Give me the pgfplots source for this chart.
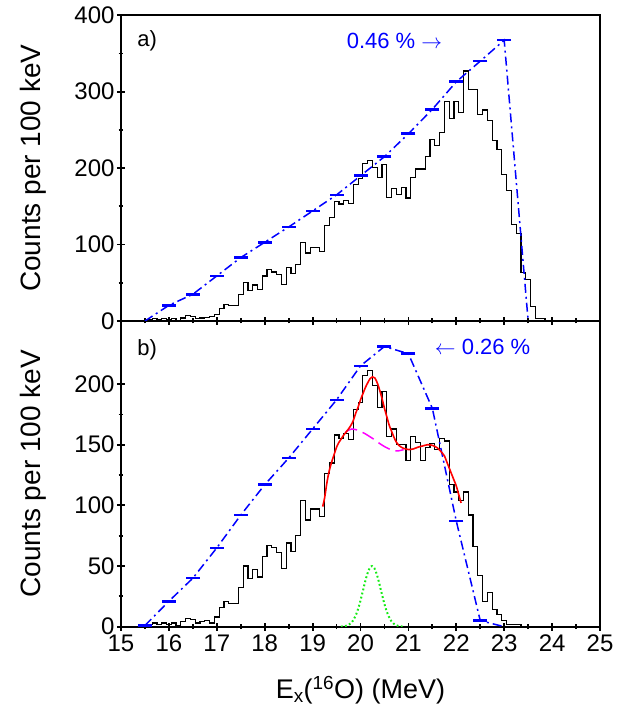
\documentclass[border=0pt]{standalone}
\usepackage{fontspec}
\setmainfont{Liberation Sans}
\usepackage{pgfplots}
\pgfplotsset{compat=1.18}
\definecolor{myblue}{RGB}{0,0,255}
\definecolor{myred}{RGB}{255,0,0}
\definecolor{mymag}{RGB}{255,0,255}
\definecolor{mygreen}{RGB}{20,235,20}
\pgfplotstableread{
x y
15.0 0
15.1 0
15.2 0
15.3 0
15.4 0
15.5 1
15.6 2
15.7 3
15.8 2
15.9 3
16.0 2
16.1 3
16.2 1
16.3 4
16.4 7
16.5 6
16.6 3
16.7 4
16.8 5
16.9 6
17.0 9
17.1 16
17.2 22
17.3 20
17.4 20
17.5 35
17.6 50
17.7 40
17.8 47
17.9 41
18.0 59
18.1 67
18.2 64
18.3 61
18.4 48
18.5 70
18.6 62
18.7 74
18.8 103
18.9 89
19.0 96
19.1 96
19.2 91
19.3 125
19.4 135
19.5 156
19.6 153
19.7 158
19.8 154
19.9 179
20.0 186
20.1 206
20.2 210
20.3 201
20.4 188
20.5 205
20.6 162
20.7 173
20.8 166
20.9 175
21.0 161
21.1 188
21.2 199
21.3 199
21.4 215
21.5 237
21.6 230
21.7 247
21.8 287
21.9 265
22.0 287
22.1 273
22.2 327
22.3 303
22.4 303
22.5 270
22.6 276
22.7 262
22.8 236
22.9 224
23.0 192
23.1 171
23.2 126
23.3 114
23.4 63
23.5 54
23.6 19
23.7 3
23.8 3
23.9 0
24.0 0
}\histA
\pgfplotstableread{
x y
15.0 0
15.1 0
15.2 0
15.3 0
15.4 0
15.5 1
15.6 2
15.7 3
15.8 2
15.9 3
16.0 2
16.1 3
16.2 1
16.3 4
16.4 7
16.5 6
16.6 3
16.7 4
16.8 5
16.9 3
17.0 8
17.1 16
17.2 21
17.3 19
17.4 19
17.5 32
17.6 50
17.7 40
17.8 47
17.9 41
18.0 58
18.1 67
18.2 65
18.3 61
18.4 48
18.5 69
18.6 62
18.7 75
18.8 104
18.9 88
19.0 97
19.1 97
19.2 91
19.3 126
19.4 135
19.5 158
19.6 155
19.7 159
19.8 154
19.9 179
20.0 185
20.1 207
20.2 211
20.3 199
20.4 181
20.5 194
20.6 157
20.7 163
20.8 150
20.9 150
21.0 137
21.1 157
21.2 152
21.3 137
21.4 148
21.5 151
21.6 146
21.7 155
21.8 153
21.9 117
22.0 111
22.1 104
22.2 111
22.3 92
22.4 66
22.5 42
22.6 21
22.7 28
22.8 14
22.9 10
23.0 5
23.1 1.5
23.2 1.5
23.3 1.5
23.4 0
23.5 0
}\histB
\pgfplotstableread{
x y
15.5 0
16.0 20.5
16.5 35
17.0 59
17.5 83
18.0 103
18.5 123
19.0 144
19.5 165
20.0 190
20.5 215
21.0 245
21.5 277
22.0 313
22.5 340
23.0 367.5
23.5 0
}\effA
\pgfplotstableread{
x y
15.5 1
16.0 21
16.5 40
17.0 65
17.5 92
18.0 117
18.5 139
19.0 163
19.5 187
20.0 215
20.5 231
21.0 225
21.5 180
22.0 87
22.5 5
23.0 0
}\effB
\pgfplotstableread{
x y
19.21 99
19.25 106
19.30 119
19.35 129
19.40 136
19.45 142
19.50 148
19.55 152
19.60 155
19.65 158
19.70 160.5
19.75 163
19.80 166
19.85 170
19.90 176
19.95 181
20.00 187
20.05 192
20.10 197
20.15 201
20.20 204.5
20.25 206
20.30 205
20.35 201
20.40 195
20.45 188
20.50 180
20.55 173
20.60 166
20.65 161
20.70 156
20.75 152
20.80 149.5
20.85 148
20.90 147
20.95 146.5
21.00 146
21.10 146.5
21.20 148
21.30 149
21.40 150
21.50 149.5
21.60 147.5
21.70 143.5
21.75 141
21.80 136
21.85 131
21.90 126
21.95 121
22.00 116
22.05 109
22.10 102
}\fitB
\pgfplotstableread{
x y
19.68 160
19.75 162
19.82 163
19.90 162.5
20.00 161
20.10 159
20.20 156.5
20.30 154
20.40 151
20.50 148.5
20.60 146.5
20.70 145
20.80 145
20.90 146
}\bgB
\pgfplotstableread{
x y
19.59 0.1
19.64 0.26
19.69 0.6
19.74 1.3
19.79 2.6
19.84 4.8
19.89 8.4
19.94 13.4
19.99 20.1
20.04 27.9
20.09 36.0
20.14 43.2
20.19 48.2
20.24 50
20.29 48.2
20.34 43.2
20.39 36.0
20.44 27.9
20.49 20.1
20.54 13.4
20.59 8.4
20.64 4.8
20.69 2.6
20.74 1.3
20.79 0.6
20.84 0.26
20.89 0.1
}\peakB
\begin{document}
\begin{tikzpicture}
\pgfplotsset{
  panel/.style={
    width=479pt, height=305.7pt, scale only axis,
    xmin=15, xmax=25, xtick={15,16,...,25}, minor x tick num=1,
    minor y tick num=1,
    axis line style={line width=2.4pt},
    every tick/.style={line width=1.8pt, black},
    major tick length=8pt, minor tick length=5pt,
    tick align=center,
    xtick pos=left, ytick pos=left,
    /pgf/number format/assume math mode=true,
    tick label style={font=\fontsize{24}{28}\selectfont},
    yticklabel style={xshift=1pt},
    xticklabel style={yshift=-1pt},
    ylabel={Counts per 100 keV},
    ylabel style={font=\fontsize{28}{32}\selectfont, at={(axis description cs:-0.184,0.5)},anchor=center},
  },
  hist/.style={black, line width=1.2pt, const plot mark mid},
  eff/.style={myblue, line width=1.5pt, dash pattern=on 9pt off 4pt on 2pt off 4pt,
    mark=-, mark size=7pt, mark options={solid, line width=2.6pt}},
}
\begin{axis}[panel, name=bot,
  ymin=0, ymax=252, ytick={0,50,100,150,200},
  xlabel={E$_{\mathrm{x}}$($^{\mathrm{16}}$O) (MeV)},
  xlabel style={font=\fontsize{27}{31}\selectfont, at={(axis description cs:0.5,-0.207)},anchor=center},
]
\addplot[hist] table[x=x,y=y] {\histB};
\addplot[eff, mark indices={1,...,15}] table[x=x,y=y] {\effB};
\addplot[mygreen, line width=2pt, dash pattern=on 1.8pt off 2.4pt, smooth] table[x=x,y=y] {\peakB};
\addplot[mymag, line width=1.5pt, dash pattern=on 13pt off 6pt, smooth] table[x=x,y=y] {\bgB};
\addplot[myred, line width=1.6pt, smooth] table[x=x,y=y] {\fitB};
\node[anchor=west, font=\fontsize{22}{26}\selectfont] at (axis cs:15.27,228) {b)};
\node[anchor=west, text=myblue, font=\fontsize{22}{26}\selectfont] at (axis cs:21.48,231) {$\leftarrow$ 0.26 \%};
\end{axis}
\begin{axis}[panel, name=top, at={(bot.north west)}, anchor=south west,
  ymin=0, ymax=400, ytick={0,100,200,300,400},
  xticklabels={},
]
\addplot[hist] table[x=x,y=y] {\histA};
\addplot[eff, mark indices={2,...,16}] table[x=x,y=y] {\effA};
\node[anchor=west, font=\fontsize{22}{26}\selectfont] at (axis cs:15.27,366) {a)};
\node[anchor=west, text=myblue, font=\fontsize{22}{26}\selectfont] at (axis cs:19.64,366) {0.46 \% $\rightarrow$};
\end{axis}
\path[use as bounding box] (bot.south west) ++(-121pt,-81.3pt) rectangle ++(630pt,708pt);
\end{tikzpicture}
\end{document}
